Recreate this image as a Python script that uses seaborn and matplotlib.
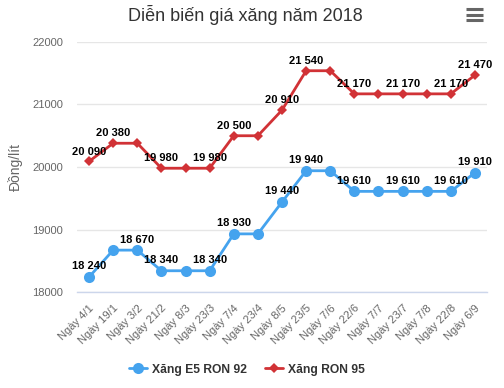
import matplotlib
matplotlib.use("Agg")
import matplotlib.pyplot as plt
from matplotlib.lines import Line2D
import seaborn as sns
import pandas as pd

dates = ["Ngày 4/1", "Ngày 19/1", "Ngày 3/2", "Ngày 21/2", "Ngày 8/3", "Ngày 23/3",
         "Ngày 7/4", "Ngày 23/4", "Ngày 8/5", "Ngày 23/5", "Ngày 7/6", "Ngày 22/6",
         "Ngày 7/7", "Ngày 23/7", "Ngày 7/8", "Ngày 22/8", "Ngày 6/9"]
e5 = [18240, 18670, 18670, 18340, 18340, 18340, 18930, 18930, 19440, 19940, 19940,
      19610, 19610, 19610, 19610, 19610, 19910]
ron95 = [20090, 20380, 20380, 19980, 19980, 19980, 20500, 20500, 20910, 21540, 21540,
         21170, 21170, 21170, 21170, 21170, 21470]
e5_labeled = [0, 2, 3, 5, 6, 8, 9, 11, 13, 15, 16]
ron95_labeled = [0, 1, 3, 5, 6, 8, 9, 11, 13, 15, 16]
yticks = [18000, 19000, 20000, 21000, 22000]

sns.set_theme(style="white")
plt.rcParams['font.family'] = ['Liberation Sans', 'DejaVu Sans']

blue = "#45a3ee"
red = "#d13236"

fig = plt.figure(figsize=(5.04, 3.88), dpi=100)
ax = fig.add_axes([0.1528, 0.2474, 0.9663 - 0.1528, 0.8918 - 0.2474])

df = pd.DataFrame({"x": list(range(len(dates))), "e5": e5, "ron95": ron95})
sns.lineplot(data=df, x="x", y="e5", ax=ax, color=blue, lw=2, marker="o",
             markersize=8, markeredgewidth=0, label="Xăng E5 RON 92")
sns.lineplot(data=df, x="x", y="ron95", ax=ax, color=red, lw=2, marker="D",
             markersize=5, markeredgewidth=0, label="Xăng RON 95")

def fmt(v):
    return f"{v:,}".replace(",", " ")

for i in e5_labeled:
    ax.annotate(fmt(e5[i]), (i, e5[i]), xytext=(0, 4), textcoords="offset points",
                ha="center", va="bottom", fontsize=8, fontweight="bold", color="#000000")
for i in ron95_labeled:
    ax.annotate(fmt(ron95[i]), (i, ron95[i]), xytext=(0, 3.5), textcoords="offset points",
                ha="center", va="bottom", fontsize=8, fontweight="bold", color="#000000")

ax.set_xlim(-0.5, len(dates) - 0.5)
ax.set_ylim(18000, 22000)
ax.set_yticks(yticks)
ax.set_yticklabels([str(v) for v in yticks], color="#666666", fontsize=8)
ax.yaxis.grid(True, color="#e6e6e6", lw=1)
ax.set_axisbelow(True)

ax.set_xticks(range(len(dates)))
ax.set_xticklabels(dates, rotation=45, ha="right", rotation_mode="anchor",
                   fontsize=8, color="#666666")
ax.tick_params(axis="x", length=0, pad=8)
ax.tick_params(axis="y", length=0, pad=10)
ax.set_xticks([i - 0.5 for i in range(len(dates) + 1)], minor=True)
ax.tick_params(axis="x", which="minor", length=8, color="#ccd6eb", width=1, direction="out")

for s in ["top", "right", "left"]:
    ax.spines[s].set_visible(False)
ax.spines["bottom"].set_color("#ccd6eb")
ax.spines["bottom"].set_linewidth(1)

ax.set_xlabel("")
ax.set_ylabel("Đồng/lít", color="#666666", fontsize=10, labelpad=7)

fig.text(0.486, 0.962, "Diễn biến giá xăng năm 2018", ha="center", va="center",
         fontsize=13, color="#333333")

# menu icon
for yy in [0.948, 0.962, 0.976]:
    fig.add_artist(Line2D([0.925, 0.958], [yy, yy], color="#666666", lw=2.2,
                          solid_capstyle="butt"))

leg = ax.legend(loc="center", bbox_to_anchor=(0.415, -0.31), ncol=2, frameon=False,
                prop={"size": 8.7, "weight": "bold"}, handlelength=1.5, columnspacing=1.5,
                handletextpad=0.4)
for t in leg.get_texts():
    t.set_color("#333333")

fig.savefig("out.png", dpi=100, facecolor="white")
